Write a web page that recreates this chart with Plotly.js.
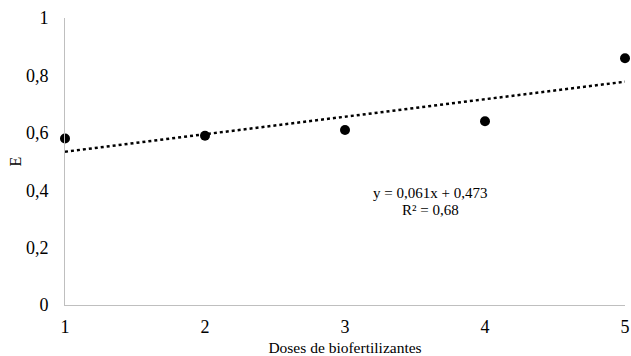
<!DOCTYPE html>
<html>
<head>
<meta charset="utf-8">
<script src="https://cdn.plot.ly/plotly-3.0.1.min.js"></script>
<style>html,body{margin:0;padding:0;background:#fff;}#chart{width:631px;height:356px;}</style>
</head>
<body>
<div id="chart"></div>
<script>
const doses = [1, 2, 3, 4, 5];
const eValues = [0.58, 0.59, 0.61, 0.64, 0.86];
const slope = 0.061;
const intercept = 0.473;
const r2Label = "R² = 0,68";
const eqLabel = "y = 0,061x + 0,473";

const trendX = [1, 5];
const trendY = trendX.map(x => slope * x + intercept);

const font = {family: "Liberation Serif, Times New Roman, serif", color: "#000"};
const f = s => Object.assign({size: s}, font);

const data = [
  {x: doses, y: eValues, mode: "markers", type: "scatter",
   marker: {color: "#000", size: 10}, cliponaxis: false, showlegend: false},
  {x: trendX, y: trendY, mode: "lines", type: "scatter",
   line: {color: "#000", width: 2.5, dash: "dot"}, cliponaxis: false, showlegend: false}
];

const mL = 65, mR = 6, mT = 18, mB = 51;
const plotW = 631 - mL - mR, plotH = 356 - mT - mB;

const layout = {
  width: 631, height: 356,
  margin: {l: mL, r: mR, t: mT, b: mB},
  paper_bgcolor: "#fff", plot_bgcolor: "#fff",
  separators: ",.",
  font: f(16),
  xaxis: {
    range: [1, 5], dtick: 1, tick0: 1, showgrid: false, zeroline: false,
    showline: true, linecolor: "#bfbfbf", linewidth: 1, ticks: "",
    ticklabelstandoff: 5,
    tickfont: f(18),
    title: {text: "Doses de biofertilizantes", font: f(15.5), standoff: 6}
  },
  yaxis: {
    range: [0, 1], dtick: 0.2, tick0: 0, showgrid: false, zeroline: false,
    showline: true, linecolor: "#bfbfbf", linewidth: 1, ticks: "",
    ticklabelstandoff: 12,
    tickfont: f(18),
    title: {text: "E", font: f(16), standoff: 0}
  },
  annotations: [
    {x: (430 - mL) / plotW, y: 1 - (193 - mT) / plotH, xref: "paper", yref: "paper",
     xanchor: "center", yanchor: "middle",
     text: eqLabel, showarrow: false, font: f(15)},
    {x: (430 - mL) / plotW, y: 1 - (210 - mT) / plotH, xref: "paper", yref: "paper",
     xanchor: "center", yanchor: "middle",
     text: r2Label, showarrow: false, font: f(15)}
  ]
};

Plotly.newPlot("chart", data, layout, {displayModeBar: false, staticPlot: true});
</script>
</body>
</html>
